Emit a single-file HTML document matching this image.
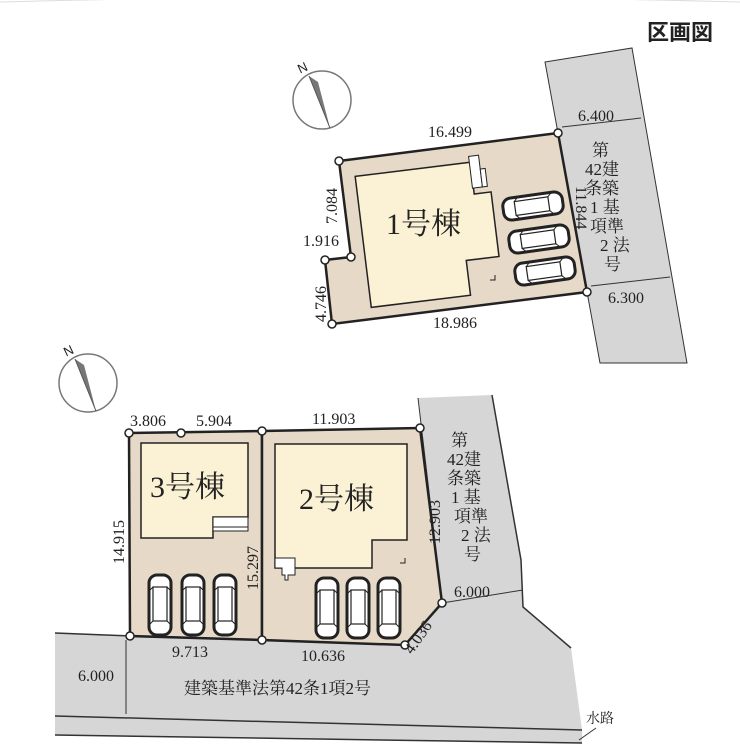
<!DOCTYPE html>
<html><head><meta charset="utf-8"><style>
html,body{margin:0;padding:0;background:#fff;}
svg{display:block;}
text{font-family:"Liberation Serif","Noto Serif CJK SC",serif;fill:#222;}
</style></head><body>
<svg width="740" height="751" viewBox="0 0 740 751" xmlns="http://www.w3.org/2000/svg">
<defs>
<g id="carv">
<rect x="-11" y="-30" width="22" height="60" rx="8" fill="#fff" stroke="#222" stroke-width="3"/>
<rect x="-7" y="-18" width="14" height="34" fill="none" stroke="#222" stroke-width="1.2"/>
<line x1="-11" y1="-14" x2="-7" y2="-18" stroke="#222"/><line x1="11" y1="-14" x2="7" y2="-18" stroke="#222"/>
<line x1="-11" y1="20" x2="-7" y2="16" stroke="#222"/><line x1="11" y1="20" x2="7" y2="16" stroke="#222"/>
</g>
<g id="carh">
<rect x="-30" y="-11" width="60" height="22" rx="8" fill="#fff" stroke="#222" stroke-width="3"/>
<rect x="-18" y="-7" width="34" height="14" fill="none" stroke="#222" stroke-width="1.2"/>
<line x1="-14" y1="-11" x2="-18" y2="-7" stroke="#222"/><line x1="-14" y1="11" x2="-18" y2="7" stroke="#222"/>
<line x1="20" y1="-11" x2="16" y2="-7" stroke="#222"/><line x1="20" y1="11" x2="16" y2="7" stroke="#222"/>
</g>
</defs>
<path d="M0 2 Q370 -8 740 2" stroke="#ddd" fill="none"/>
<text x="680" y="40" font-size="22" font-weight="bold" text-anchor="middle" style="font-family:'Liberation Sans','Noto Sans CJK JP',sans-serif">区画図</text>

<polygon points="545,62 632,48 687,363 600,363" fill="#d6d6d6" stroke="#333" stroke-width="1"/>
<polygon points="339,161 558,133 587,292 332,324 325,260 351,257" fill="#e6d9c8" stroke="#222" stroke-width="2.5"/>
<g transform="rotate(-7 427 228)">
<polygon points="362,168 478,168 478,200 495,200 495,265 462,265 462,300 362,300" fill="#fbf1d4" stroke="#222" stroke-width="1.5"/>
<rect x="477" y="162" width="10" height="32" fill="#fff" stroke="#222"/>
<rect x="487" y="176" width="5" height="18" fill="#fff" stroke="#222"/>
</g>
<path d="M490 280 L495 280 L495 275" stroke="#222" fill="none"/>
<g transform="translate(533,206) rotate(-8)"><use href="#carh"/></g>
<g transform="translate(539,239) rotate(-8)"><use href="#carh"/></g>
<g transform="translate(545,271) rotate(-8)"><use href="#carh"/></g>
<g fill="#fff" stroke="#222" stroke-width="1.5">
<circle cx="339" cy="161" r="4"/><circle cx="558" cy="133" r="4"/><circle cx="587" cy="292" r="4"/><circle cx="332" cy="324" r="4"/><circle cx="325" cy="260" r="4"/><circle cx="351" cy="257" r="4"/>
</g>
<line x1="562" y1="127" x2="641" y2="118" stroke="#333"/>
<line x1="591" y1="286" x2="670" y2="277" stroke="#333"/>
<g font-size="16">
<text x="428" y="137">16.499</text>
<text x="433" y="328">18.986</text>
<text x="578" y="121">6.400</text>
<text x="608" y="303">6.300</text>
<text x="303" y="246">1.916</text>
<text transform="translate(337,224) rotate(-90)">7.084</text>
<text transform="translate(326,322) rotate(-90)">4.746</text>
<text transform="translate(576,186) rotate(90)">11.844</text>
</g>
<text x="386" y="234" font-size="30">1号棟</text>
<g font-size="17">
<text x="592" y="156">第</text>
<text x="585" y="175">42建</text>
<text x="585" y="194">条築</text>
<text x="590" y="213">1 基</text>
<text x="590" y="232">項準</text>
<text x="600" y="251">2 法</text>
<text x="604" y="270">号</text>
</g>
<circle cx="322" cy="100" r="29" fill="none" stroke="#777" stroke-width="1.5"/>
<polygon points="309,76 330,128 318,82" fill="#777"/>
<line x1="309" y1="76" x2="330" y2="128" stroke="#555"/>
<text x="298" y="72" font-size="13" transform="rotate(-25 303 68)" style="font-family:'Liberation Sans',sans-serif" fill="#555">N</text>
<circle cx="88" cy="383" r="29" fill="none" stroke="#777" stroke-width="1.5"/>
<polygon points="75,359 96,411 84,365" fill="#777"/>
<line x1="75" y1="359" x2="96" y2="411" stroke="#555"/>
<text x="64" y="355" font-size="13" transform="rotate(-25 69 351)" style="font-family:'Liberation Sans',sans-serif" fill="#555">N</text>

<polygon points="418,398 492,395 521,560 523,607 571,648 582,730 582,743 55,735 55,633 130,636 262,640 405,645 442,603" fill="#d6d6d6"/>
<polyline points="418,398 442,603" stroke="#333" fill="none"/>
<polyline points="492,395 521,560 523,607 571,648" stroke="#333" fill="none" stroke-width="1.5"/>
<polyline points="442,603 523,590" stroke="#333" fill="none"/>
<line x1="55" y1="633" x2="130" y2="636" stroke="#333" stroke-width="1.5"/>
<line x1="55" y1="716" x2="582" y2="730" stroke="#333" stroke-width="1.5"/>
<line x1="55" y1="735" x2="582" y2="743" stroke="#333" stroke-width="1.5"/>
<line x1="579" y1="740" x2="596" y2="728" stroke="#333"/>
<line x1="126" y1="640" x2="126" y2="714" stroke="#333"/>
<polygon points="129,433 262,431 262,640 130,636" fill="#e6d9c8" stroke="#222" stroke-width="2.5"/>
<polygon points="262,431 420,428 442,603 405,645 262,640" fill="#e6d9c8" stroke="#222" stroke-width="2.5"/>
<polygon points="141,443 248,443 248,517 213,517 213,538 141,538" fill="#fbf1d4" stroke="#222" stroke-width="1.5"/>
<rect x="213" y="517" width="35" height="10" fill="#fff" stroke="#222"/>
<rect x="213" y="527" width="35" height="4" fill="#fff" stroke="#222"/>
<polygon points="275,444 407,444 407,540 372,540 372,568 275,568" fill="#fbf1d4" stroke="#222" stroke-width="1.5"/>
<polygon points="275,558 295,558 295,575 288,575 288,580 285,580 285,575 282,575 282,568 275,568" fill="#fff" stroke="#222"/>
<path d="M400 563 L405 563 L405 558" stroke="#222" fill="none"/>
<use href="#carv" x="160" y="605"/><use href="#carv" x="193" y="605"/><use href="#carv" x="225" y="605"/>
<use href="#carv" x="327" y="608"/><use href="#carv" x="358" y="608"/><use href="#carv" x="389" y="608"/>
<g fill="#fff" stroke="#222" stroke-width="1.5">
<circle cx="129" cy="433" r="4"/><circle cx="181" cy="433" r="4"/><circle cx="262" cy="431" r="4"/><circle cx="420" cy="428" r="4"/>
<circle cx="442" cy="603" r="4"/><circle cx="405" cy="645" r="4"/><circle cx="262" cy="640" r="4"/><circle cx="130" cy="636" r="4"/>
</g>
<g font-size="16">
<text x="130" y="426">3.806</text>
<text x="196" y="426">5.904</text>
<text x="312" y="424">11.903</text>
<text x="172" y="657">9.713</text>
<text x="301" y="661">10.636</text>
<text x="454" y="597">6.000</text>
<text x="78" y="681">6.000</text>
<text transform="translate(124,564) rotate(-90)">14.915</text>
<text transform="translate(258,590) rotate(-90)">15.297</text>
<text transform="translate(440,544) rotate(-90)">12.903</text>
<text transform="translate(412,655) rotate(-55)">4.036</text>
</g>
<text x="150" y="497" font-size="30">3号棟</text>
<text x="299" y="509" font-size="30">2号棟</text>
<g font-size="17">
<text x="451" y="446">第</text>
<text x="447" y="465">42建</text>
<text x="447" y="484">条築</text>
<text x="451" y="503">1 基</text>
<text x="454" y="522">項準</text>
<text x="461" y="541">2 法</text>
<text x="464" y="560">号</text>
</g>
<text x="184" y="694" font-size="17">建築基準法第42条1項2号</text>
<text x="586" y="723" font-size="14">水路</text>
</svg>
</body></html>
